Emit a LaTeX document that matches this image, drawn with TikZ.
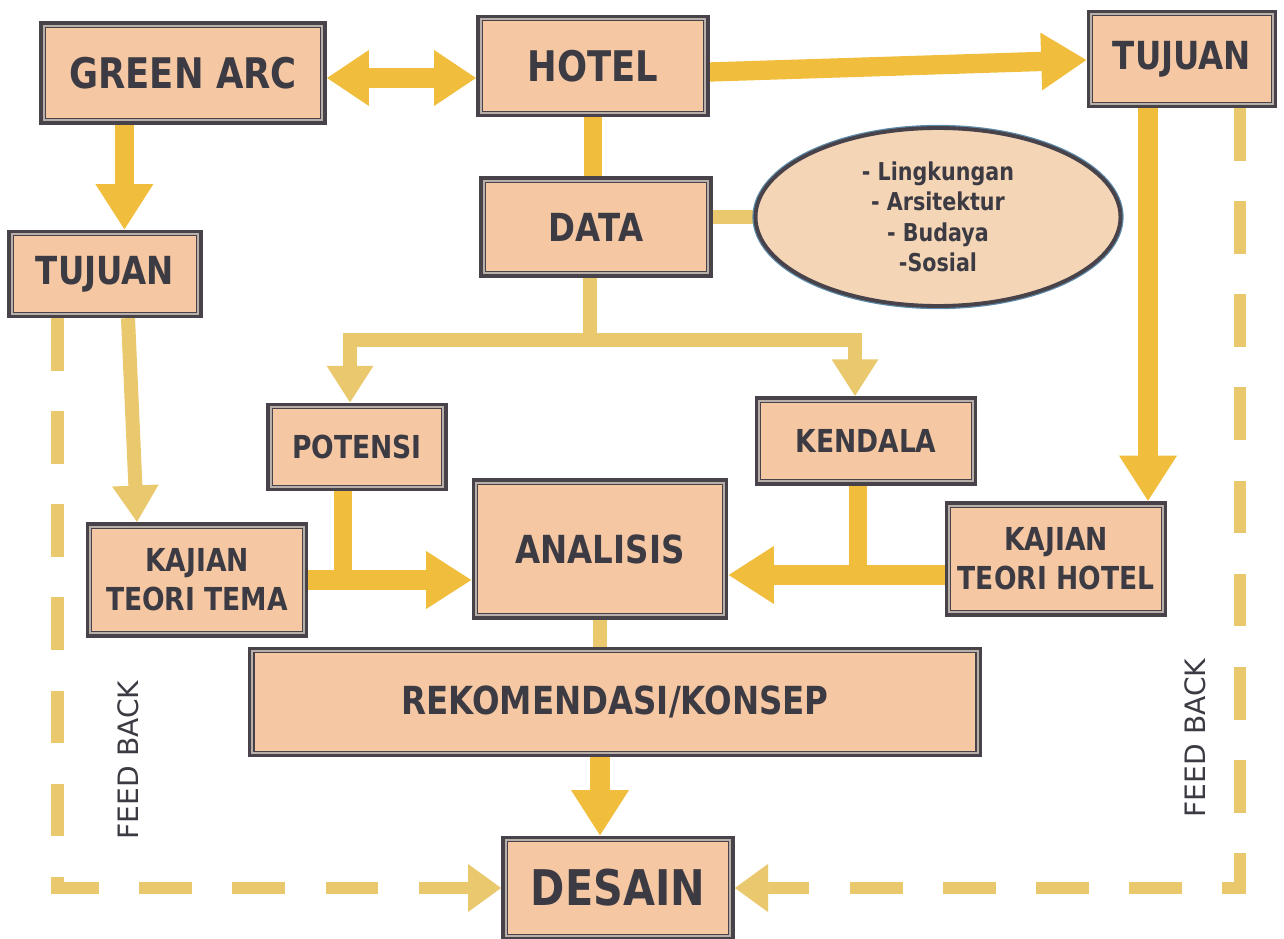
\documentclass[tikz,border=0pt]{standalone}
\usepackage{fontspec}
\setmainfont{DejaVu Sans}
\newfontfamily\boxfont{DejaVu Sans}[FakeStretch=0.84]
\usepackage{tikz}
\usetikzlibrary{arrows.meta,calc,backgrounds}
\usetikzlibrary{shapes.geometric}
\definecolor{boxfill}{HTML}{F5C8A3}
\definecolor{ellfill}{HTML}{F4D5B6}
\definecolor{boxline}{HTML}{48424A}
\definecolor{boxgap}{HTML}{B8AFA8}
\definecolor{ellblue}{HTML}{5E8CAA}
\definecolor{arrowstrong}{HTML}{F0BD3C}
\definecolor{arrowlight}{HTML}{EAC86E}
\definecolor{textdark}{HTML}{3C3A42}

\tikzset{
  box/.style={draw=boxline, line width=3pt, fill=boxfill, inner sep=0pt, align=center, text=textdark},
  innerline/.style={draw=boxline, line width=0.7pt, double=boxgap, double distance=1.1pt},
  info/.style={ellipse, draw=boxline, line width=2.2pt, fill=ellfill, inner sep=0pt, align=center, text=textdark,
    preaction={draw=ellblue, line width=3.6pt}},
  txtXL/.style={font=\boxfont\bfseries\fontsize{28}{30}\selectfont},
  txtL/.style={font=\boxfont\bfseries\fontsize{24}{26}\selectfont},
  txtM/.style={font=\boxfont\bfseries\fontsize{22}{24}\selectfont},
  txtS/.style={font=\boxfont\bfseries\fontsize{18}{22}\selectfont},
  txtXS/.style={font=\boxfont\bfseries\fontsize{14}{17.3}\selectfont},
  fbtext/.style={font=\fontsize{16}{18}\selectfont, text=textdark},
  fat/.style={draw=arrowstrong, line width=11pt, -{Triangle[length=26pt,width=31pt]}},
  fatboth/.style={draw=arrowstrong, line width=11pt, {Triangle[length=24pt,width=30pt]}-{Triangle[length=24pt,width=30pt]}},
  fatline/.style={draw=arrowstrong, line width=10pt},
  slim/.style={draw=arrowlight, line width=8pt, -{Triangle[length=21pt,width=25pt]}},
  slimline/.style={draw=arrowlight, line width=8pt},
  feedback/.style={draw=arrowlight, line width=7pt, dash pattern=on 30pt off 23pt, -{Triangle[length=19pt,width=26pt]}}
}

\begin{document}
\begin{tikzpicture}[x=0.02cm, y=-0.02cm]
  \useasboundingbox (0,0) rectangle (1284,939);
  % top row
  \node[box, txtL, minimum width=5.64cm, minimum height=1.96cm] (green) at (183,73) {GREEN ARC};
  \node[box, txtL, minimum width=4.56cm, minimum height=1.94cm] (hotel) at (593,66) {HOTEL};
  \node[box, txtM, minimum width=3.7cm, minimum height=1.86cm] (tujuanA) at (1182,59) {TUJUAN};
  % data and its aspects
  \node[box, txtM, minimum width=4.56cm, minimum height=1.92cm] (data) at (596,227) {DATA};
  \node[info, txtXS, minimum width=7.3cm, minimum height=3.56cm] (info) at (938,217)
    {- Lingkungan\\- Arsitektur\\- Budaya\\-Sosial};
  \node[box, txtM, minimum width=3.8cm, minimum height=1.66cm] (tujuanB) at (105,274) {TUJUAN};
  % middle
  \node[box, txtS, minimum width=3.52cm, minimum height=1.66cm] (potensi) at (357,447) {POTENSI};
  \node[box, txtS, minimum width=4.34cm, minimum height=1.68cm] (kendala) at (866,441) {KENDALA};
  \node[box, txtM, minimum width=5.02cm, minimum height=2.72cm] (analisis) at (600,549) {ANALISIS};
  \node[box, txtS, minimum width=4.34cm, minimum height=2.2cm] (kajianA) at (197,580) {KAJIAN\\TEORI TEMA};
  \node[box, txtS, minimum width=4.34cm, minimum height=2.2cm] (kajianB) at (1056,559) {KAJIAN\\TEORI HOTEL};
  % bottom
  \node[box, txtM, minimum width=14.58cm, minimum height=2.1cm] (rekom) at (615,702) {REKOMENDASI/KONSEP};
  \node[box, txtXL, minimum width=4.56cm, minimum height=1.98cm] (desain) at (618,888) {DESAIN};
  \node[fbtext, rotate=90] (fbL) at (128,760) {FEED BACK};
  \node[fbtext, rotate=90] (fbR) at (1195,738) {FEED BACK};
  % inner frame of every box
  \foreach \n in {green,hotel,tujuanA,data,tujuanB,potensi,kendala,analisis,kajianA,kajianB,rekom,desain}
    \draw[innerline] ([shift={(2.5pt,-2.5pt)}]\n.north west) rectangle ([shift={(-2.5pt,2.5pt)}]\n.south east);

  \begin{scope}[on background layer]
    % top row
    \draw[fatboth] ($(green.east)+(0,5)$) -- ($(green.east -| hotel.west)+(0,5)$);
    \draw[fat] ($(hotel.east)+(0,6)$) -- ($(tujuanA.west)+(0,1)$);
    \coordinate (gs) at ($(green.south west)+(85,0)$);
    \draw[fat] (gs) -- (gs |- tujuanB.north);
    % data
    \draw[fatline] (hotel.south) -- (hotel.south |- data.north);
    \draw[slimline] (info.west -| data.east) -- (info.west);
    \coordinate (fork) at ($(data.south)+(-6,62)$);
    \draw[slimline] (fork |- data.south) -- (fork);
    \draw[slim] (fork) -| ($(potensi.north)+(-7,0)$);
    \draw[slim] (fork) -| ($(kendala.north)+(-11,0)$);
    % side columns
    \coordinate (ta) at ($(tujuanA.south)+(-34,0)$);
    \draw[fat] (ta) -- (ta |- kajianB.north);
    \draw[slim] ($(tujuanB.south)+(23,0)$) -- ($(kajianA.north)+(-60,0)$);
    % into ANALISIS
    \draw[fat] (kajianA.east) -- (kajianA.east -| analisis.west);
    \coordinate (pb) at ($(potensi.south)+(-14,0)$);
    \draw[fatline] (pb) -- (pb |- kajianA.east);
    \coordinate (kb) at ($(kajianB.west)+(0,16)$);
    \draw[fat] (kb) -- (kb -| analisis.east);
    \coordinate (kd) at ($(kendala.south)+(-8,0)$);
    \draw[fatline] (kd) -- (kd |- kb);
    % down to DESAIN
    \draw[slimline] (analisis.south) -- (analisis.south |- rekom.north);
    \draw[fat] (analisis.south |- rekom.south) -- (analisis.south |- desain.north);
    % feed back
    \draw[feedback] ($(tujuanB.south west)+(50,0)$) |- (desain.west);
    \draw[feedback] ($(tujuanA.south east)+(-37,0)$) |- (desain.east);
  \end{scope}
\end{tikzpicture}
\end{document}
